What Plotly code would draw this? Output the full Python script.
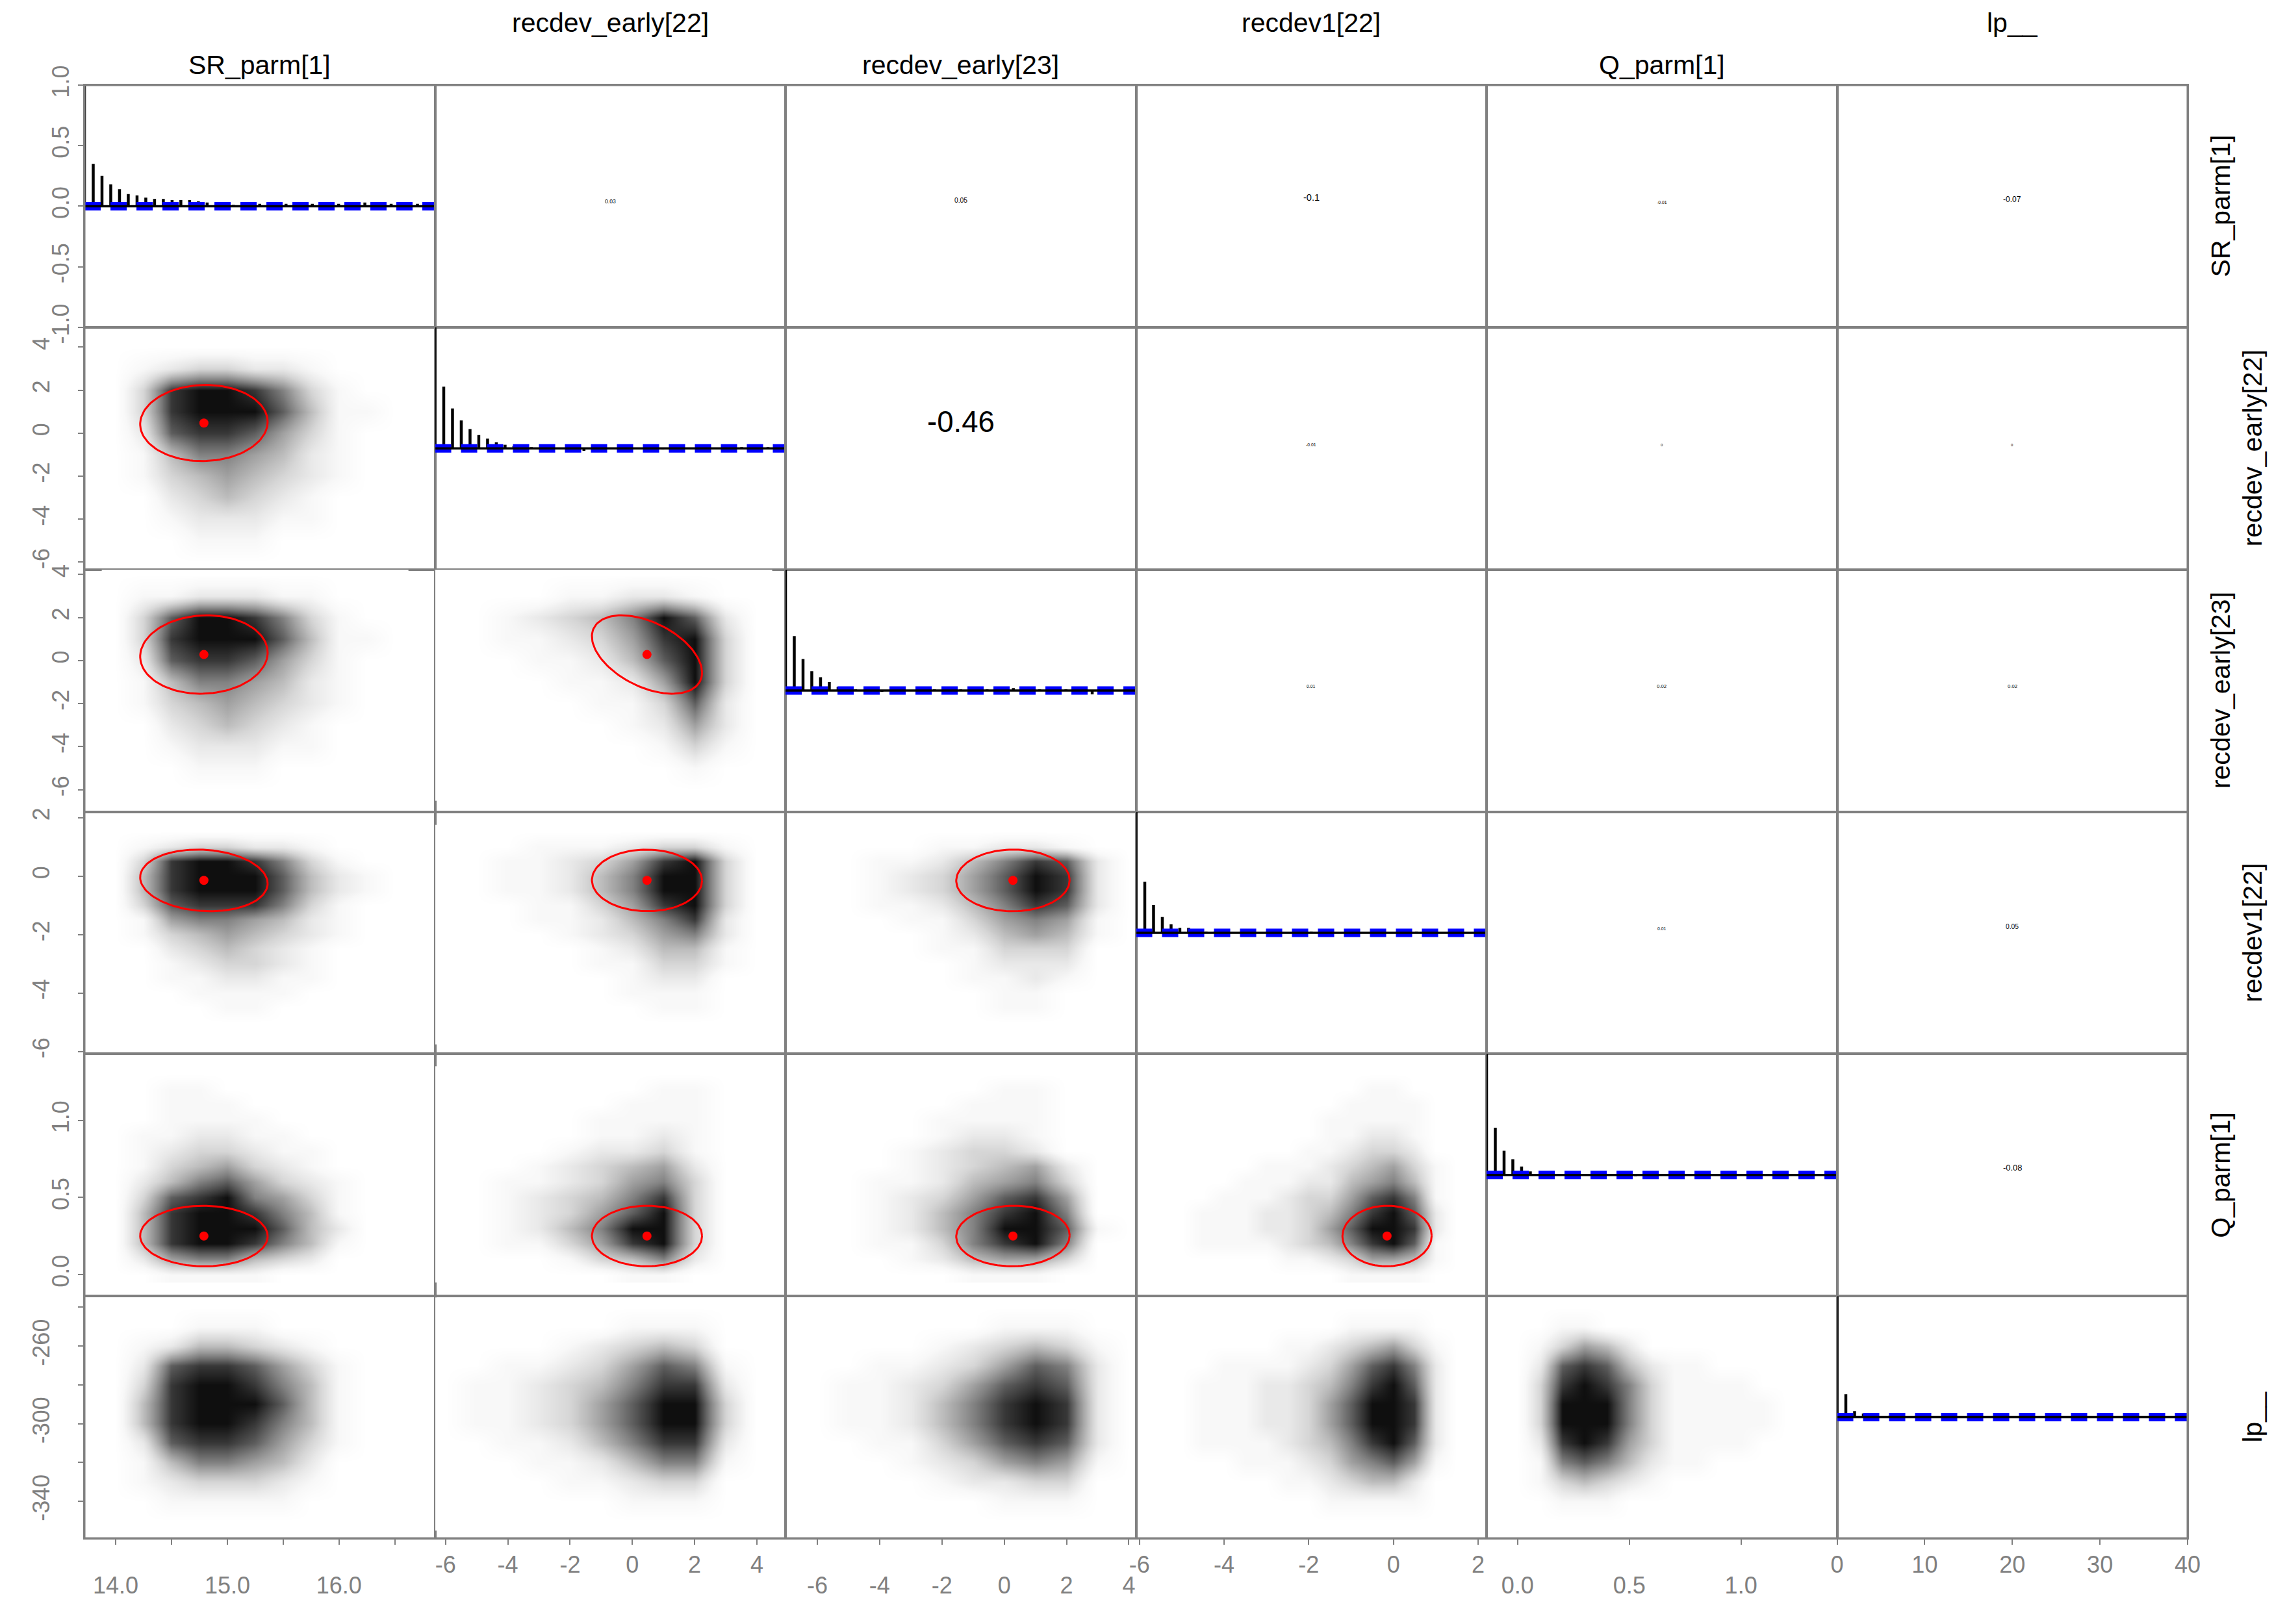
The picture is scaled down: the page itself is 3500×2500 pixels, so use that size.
import numpy as np
import plotly.graph_objects as go
from plotly.subplots import make_subplots

# --- parameters shown in the pairs matrix ---
par_names = ["SR_parm[1]", "recdev_early[22]", "recdev_early[23]",
             "recdev1[22]", "Q_parm[1]", "lp__"]

# axis limits used for each parameter (column x / row y)
par_lims = [[13.72, 16.86], [-6.34, 4.92], [-7.02, 4.23],
            [-6.08, 2.2], [-0.139, 1.43], [-359.0, -234.3]]

# tick positions / labels ("" = tick with no label)
sr_ticks = [14.0, 14.5, 15.0, 15.5, 16.0, 16.5]
sr_ticktext = ["14.0", "", "15.0", "", "16.0", ""]
e22_ticks = [-6, -4, -2, 0, 2, 4]
e22_ticktext = ["-6", "-4", "-2", "0", "2", "4"]
e23_ticks = [-6, -4, -2, 0, 2, 4]
e23_ticktext = ["-6", "-4", "-2", "0", "2", "4"]
r1_ticks = [-6, -4, -2, 0, 2]
r1_ticktext = ["-6", "-4", "-2", "0", "2"]
q_ticks = [0.0, 0.5, 1.0]
q_ticktext = ["0.0", "0.5", "1.0"]
lp_ticks = [-340, -320, -300, -280, -260, -240]
lp_ticktext = ["-340", "", "-300", "", "-260", ""]
lag_ticks = [0, 10, 20, 30, 40]
lag_ticktext = ["0", "10", "20", "30", "40"]
acf_ticks = [-1.0, -0.5, 0.0, 0.5, 1.0]
acf_ticktext = ["-1.0", "-0.5", "0.0", "0.5", "1.0"]

# --- posterior sample clouds, read off as darkness 0-9 on a grid ---
# bin centres per parameter
sr_mids = [14.0, 14.25, 14.5, 14.75, 15.0, 15.25, 15.5, 15.75, 16.0, 16.25, 16.5]
e22_mids = [-6, -5, -4, -3, -2, -1, 0, 1, 2, 3, 4]
e23_mids = [-6, -5, -4, -3, -2, -1, 0, 1, 2, 3, 4]
r1_mids = [-5.5, -5.0, -4.5, -4.0, -3.5, -3.0, -2.5, -2.0, -1.5, -1.0, -0.5, 0.0, 0.5, 1.0, 1.5]
q_mids = [0.0, 0.1, 0.2, 0.3, 0.4, 0.5, 0.6, 0.7, 0.8, 0.9, 1.0, 1.1, 1.2, 1.3]
lp_mids = [-350, -340, -330, -320, -310, -300, -290, -280, -270, -260, -250, -240]

# grids: first string = top (largest y) row, one char per x bin
dens_2_1 = ["00000000000", "01233221000", "03899863100", "03899974110",
            "02788753100", "01466542100", "01345432100", "00234321000",
            "00122211000", "00011100000", "00000000000"]
dens_3_1 = ["00000000000", "01122211000", "03799863100", "03899974110",
            "02788753100", "01466542100", "01345432100", "00234321000",
            "00122211000", "00011100000", "00000000000"]
dens_3_2 = ["00000000000", "00001122100", "00123469720", "00112358930",
            "00011247930", "00001125930", "00000113720", "00000012520",
            "00000001310", "00000000100", "00000000000"]
dens_4_1 = ["00000000000", "01233221000", "03899863100", "04899974210",
            "04899974210", "03788863100", "01566542100", "01345432100",
            "00234321000", "00123321000", "00112211000", "00011110000",
            "00001100000", "00000000000", "00000000000"]
dens_4_2 = ["00000000000", "00011123310", "00112358930", "00112469930",
            "00112469930", "00011358930", "00011246820", "00001235620",
            "00000124410", "00000113310", "00000012200", "00000011100",
            "00000001100", "00000000000", "00000000000"]
dens_4_3 = ["00000000000", "00001122100", "00112468720", "00123579820",
            "00123579820", "00112468720", "00011356510", "00001245410",
            "00001133300", "00000122200", "00000112100", "00000011000",
            "00000011000", "00000000000", "00000000000"]
dens_5_1 = ["00000000000", "00110000000", "00111000000", "00111100000",
            "01122110000", "01233211000", "01345321000", "02467532100",
            "03789653100", "04899864100", "04899974200", "04899864100",
            "02566432000", "00111100000"]
dens_5_2 = ["00000000000", "00000001100", "00000011100", "00000111100",
            "00000112100", "00001223100", "00012345200", "00112356300",
            "00123468300", "00123579300", "00124699300", "00113589300",
            "00001346200", "00000011000"]
dens_5_3 = ["00000000000", "00000011000", "00000111000", "00001111000",
            "00001221000", "00012332000", "00012345200", "00112456300",
            "00123578500", "00124689600", "00124699710", "00113689600",
            "00012455300", "00000111000"]
dens_5_4 = ["000000000000000", "000000000011000", "000000000111100",
            "000000001111100", "000000001122100", "000000011233200",
            "000001112345310", "000011122456410", "000111233578610",
            "001112234689720", "001112235799820", "001111234689710",
            "000000112355410", "000000000111100"]
dens_6_1 = ["00000000000", "00011100000", "01244321000", "02788753100",
            "03899864100", "04899974100", "04899864100", "02788753100",
            "01466542000", "01233321000", "00111110000", "00000000000"]
dens_6_2 = ["00000000000", "00000011100", "00001234300", "00112357610",
            "01123468820", "01123579930", "01123579930", "00112468820",
            "00011246610", "00001123300", "00000011100", "00000000000"]
dens_6_3 = ["00000000000", "00000011100", "00001234310", "00112357620",
            "01123578720", "01124689820", "01124689820", "00113578720",
            "00012356510", "00001223300", "00000011100", "00000000000"]
dens_6_4 = ["000000000000000", "000000000111100", "000000112345310",
            "000111123578620", "001112234689720", "001112235799820",
            "001112235799820", "001111234689720", "000011123567510",
            "000000112344200", "000000001111100", "000000000000000"]
dens_6_5 = ["00000000000000", "00110000000000", "01354200000000",
            "02787421100000", "03898631111000", "03999631111100",
            "03999631111100", "02898531111000", "01676421100000",
            "01343210000000", "00111000000000", "00000000000000"]

# MLE point and sd (red dot / ellipse), first five parameters
mle_mean = [14.79, 0.47, 0.28, -0.15, 0.25]
mle_sd = [0.233, 0.722, 0.743, 0.43, 0.080]

# posterior correlations printed in the upper panels (row i, col j > i)
cor_upper = [
    [None, 0.03, 0.05, -0.1, -0.01, -0.07],
    [None, None, -0.46, -0.01, 0.0, 0.0],
    [None, None, None, 0.01, 0.02, 0.02],
    [None, None, None, None, 0.01, 0.05],
    [None, None, None, None, None, -0.08],
]

# autocorrelation, lags 0..40
lags = list(range(41))
acf_sr = [1.00, 0.35, 0.25, 0.18, 0.14, 0.10, 0.09, 0.07, 0.06, 0.06, 0.05,
          0.05, 0.05, 0.04, 0.03, 0.02, 0.01, 0.01, 0.00, 0.01, 0.02, 0.02,
          0.01, 0.02, 0.01, 0.03, 0.02, 0.01, 0.01, 0.02, 0.01, 0.01, 0.03,
          0.01, 0.00, 0.02, 0.01, 0.00, 0.02, 0.01, 0.01]
acf_e22 = [1.00, 0.51, 0.33, 0.23, 0.16, 0.11, 0.08, 0.05, 0.03, 0.02, 0.01,
           0.01, 0.00, 0.01, 0.00, 0.00, -0.01, -0.02, 0.00, 0.01, 0.00, 0.01,
           0.00, 0.00, 0.01, 0.00, -0.01, 0.00, 0.01, 0.00, 0.00, 0.01, 0.00,
           0.00, 0.00, 0.01, 0.00, 0.00, 0.01, 0.00, 0.00]
acf_e23 = [1.00, 0.45, 0.26, 0.16, 0.11, 0.07, 0.03, 0.02, 0.01, 0.00, 0.01,
           -0.01, 0.00, 0.01, 0.00, 0.00, 0.00, 0.01, 0.00, 0.00, 0.01, 0.00,
           0.00, 0.01, 0.00, 0.01, 0.02, 0.02, 0.00, 0.01, 0.00, 0.00, 0.01,
           0.00, -0.01, -0.03, -0.02, 0.00, 0.00, 0.01, 0.00]
acf_r1 = [1.00, 0.42, 0.23, 0.13, 0.07, 0.04, 0.04, 0.02, 0.01, 0.01, 0.00,
          0.00, 0.01, 0.00, 0.00, 0.01, 0.00, 0.00, -0.01, 0.00, 0.01, 0.00,
          0.00, 0.00, 0.01, 0.00, 0.00, 0.00, -0.01, 0.00, 0.00, 0.00, 0.01,
          0.00, 0.00, 0.00, 0.00, 0.00, 0.00, 0.01, 0.00]
acf_q = [1.00, 0.39, 0.20, 0.13, 0.07, 0.03, 0.01, 0.01, 0.00, 0.01, 0.00,
         0.00, 0.01, 0.00, 0.00, 0.00, 0.01, -0.01, 0.00, 0.00, 0.00, 0.01,
         0.00, 0.00, 0.01, 0.00, 0.00, 0.00, -0.01, 0.00, 0.00, 0.01, 0.00,
         0.00, 0.00, 0.00, 0.00, 0.00, 0.00, 0.00, 0.00]
acf_lp = [1.00, 0.19, 0.05, 0.03, 0.01, 0.00, 0.01, 0.00, 0.00, 0.01, 0.00,
          0.00, 0.00, 0.01, 0.00, 0.00, 0.00, 0.00, 0.01, 0.00, 0.00, 0.00,
          0.01, 0.00, 0.00, 0.00, 0.00, 0.01, 0.00, 0.00, 0.00, 0.00, 0.00,
          0.00, 0.00, 0.00, 0.00, -0.01, 0.00, -0.02, 0.00]

# ---- lookups built from the arrays above ----
mids = [sr_mids, e22_mids, e23_mids, r1_mids, q_mids, lp_mids]
ticks = [(sr_ticks, sr_ticktext), (e22_ticks, e22_ticktext), (e23_ticks, e23_ticktext),
         (r1_ticks, r1_ticktext), (q_ticks, q_ticktext), (lp_ticks, lp_ticktext)]
acfs = [acf_sr, acf_e22, acf_e23, acf_r1, acf_q, acf_lp]
dens = {(2, 1): dens_2_1, (3, 1): dens_3_1, (3, 2): dens_3_2,
        (4, 1): dens_4_1, (4, 2): dens_4_2, (4, 3): dens_4_3,
        (5, 1): dens_5_1, (5, 2): dens_5_2, (5, 3): dens_5_3, (5, 4): dens_5_4,
        (6, 1): dens_6_1, (6, 2): dens_6_2, (6, 3): dens_6_3, (6, 4): dens_6_4,
        (6, 5): dens_6_5}

GRAY = "#808080"
FONT = "Liberation Sans, Arial, sans-serif"
ELL_R = 2.45  # ~95% ellipse

# figure size / margins (page adds an 8px body margin on every side)
FIG_W, FIG_H = 3484, 2484
M_L, M_R, M_T, M_B = 122, 125, 123, 124
PLOT_H = FIG_H - M_T - M_B

# white -> near black, non-linear so sparse areas stay light
cscale = [[d / 9, "rgb({0},{0},{0})".format(int(round(255 - 240 * (d / 9) ** 1.6)))]
          for d in range(10)]

fig = make_subplots(rows=6, cols=6, horizontal_spacing=0, vertical_spacing=0)


def sfx(n):
    return "" if n == 1 else str(n)


for r in range(1, 7):
    for c in range(1, 7):
        n = (r - 1) * 6 + c
        if r > c:
            # sample cloud
            grid = dens[(r, c)]
            z = [[int(ch) for ch in row] for row in grid[::-1]]
            fig.add_trace(go.Heatmap(x=mids[c - 1], y=mids[r - 1], z=z, zmin=0, zmax=9,
                                     colorscale=cscale, showscale=False, zsmooth="best",
                                     hoverinfo="skip"), row=r, col=c)
            if r <= 5:
                i, j = c - 1, r - 1
                rho = cor_upper[i][j]
                t = np.linspace(0, 2 * np.pi, 120)
                ex = mle_mean[i] + ELL_R * mle_sd[i] * np.cos(t)
                ey = mle_mean[j] + ELL_R * mle_sd[j] * (rho * np.cos(t) + np.sqrt(1 - rho ** 2) * np.sin(t))
                fig.add_trace(go.Scatter(x=ex, y=ey, mode="lines",
                                         line=dict(color="red", width=3),
                                         hoverinfo="skip"), row=r, col=c)
                fig.add_trace(go.Scatter(x=[mle_mean[i]], y=[mle_mean[j]], mode="markers",
                                         marker=dict(color="red", size=14),
                                         hoverinfo="skip"), row=r, col=c)
        elif r == c:
            acf = acfs[r - 1]
            bx, by = [], []
            for lag, a in zip(lags, acf):
                bx += [lag, lag, None]
                by += [0, a, None]
            fig.add_trace(go.Scatter(x=bx, y=by, mode="lines",
                                     line=dict(color="black", width=4.5),
                                     hoverinfo="skip"), row=r, col=c)
            fig.add_trace(go.Scatter(x=[lags[0], lags[-1]], y=[0, 0], mode="lines",
                                     line=dict(color="blue", width=13, dash="25px,15px"),
                                     hoverinfo="skip"), row=r, col=c)
            fig.add_trace(go.Scatter(x=[lags[0], lags[-1]], y=[0, 0], mode="lines",
                                     line=dict(color="black", width=3.5),
                                     hoverinfo="skip"), row=r, col=c)
        else:
            # empty trace so the panel box is drawn
            fig.add_trace(go.Scatter(x=[None], y=[None], mode="lines",
                                     hoverinfo="skip"), row=r, col=c)
            val = cor_upper[r - 1][c - 1]
            size = 6 + 86 * abs(val)
            fig.add_annotation(xref="paper", yref="paper",
                               x=(c - 0.5) / 6,
                               y=1 - (r - 0.5) / 6 + 0.9 * size / PLOT_H,
                               xanchor="center", yanchor="middle",
                               showarrow=False, text="%g" % val,
                               font=dict(size=size, color="black", family=FONT))

        # axes
        if r == c:
            xr, yr = [0, 40], [-1, 1]
        elif r > c:
            xr, yr = par_lims[c - 1], par_lims[r - 1]
        else:
            xr, yr = [0, 1], [0, 1]
        base = dict(showline=True, mirror=True, linecolor=GRAY, linewidth=1.5,
                    showgrid=False, zeroline=False, ticks="", showticklabels=False,
                    fixedrange=True)
        xa = dict(base, range=xr)
        ya = dict(base, range=yr)
        if r == 6:
            tv, tt = (lag_ticks, lag_ticktext) if c == 6 else ticks[c - 1]
            xa.update(ticks="outside", ticklen=8, tickwidth=2, tickcolor=GRAY,
                      tickvals=tv, ticktext=tt, showticklabels=True,
                      tickfont=dict(size=36, color=GRAY, family=FONT),
                      ticklabelstandoff=32 if c % 2 == 1 else 0)
        if c == 1:
            tv, tt = (acf_ticks, acf_ticktext) if r == 1 else ticks[r - 1]
            ya.update(ticks="outside", ticklen=8, tickwidth=2, tickcolor=GRAY,
                      tickvals=tv, ticktext=tt, showticklabels=True, tickangle=-90,
                      tickfont=dict(size=36, color=GRAY, family=FONT),
                      ticklabelstandoff=0 if r % 2 == 1 else 30)
        fig.layout["xaxis" + sfx(n)].update(xa)
        fig.layout["yaxis" + sfx(n)].update(ya)

# column headers (top) and row labels (right), staggered like the original
for k, name in enumerate(par_names):
    fig.add_annotation(xref="paper", yref="paper", x=(k + 0.5) / 6, y=1,
                       xanchor="center", yanchor="middle", showarrow=False, text=name,
                       yshift=31 if k % 2 == 0 else 96,
                       font=dict(size=41, color="black", family=FONT))
    fig.add_annotation(xref="paper", yref="paper", x=1, y=1 - (k + 0.5) / 6,
                       xanchor="center", yanchor="middle", showarrow=False, text=name,
                       textangle=-90, xshift=51 if k % 2 == 0 else 100,
                       font=dict(size=41, color="black", family=FONT))

# heavier outer frame
fig.add_shape(type="rect", xref="paper", yref="paper", x0=0, y0=0, x1=1, y1=1,
              line=dict(color=GRAY, width=3))

fig.update_layout(width=FIG_W, height=FIG_H, showlegend=False,
                  margin=dict(l=M_L, r=M_R, t=M_T, b=M_B),
                  paper_bgcolor="white", plot_bgcolor="white",
                  font=dict(family=FONT))

fig.write_html("out.html")
